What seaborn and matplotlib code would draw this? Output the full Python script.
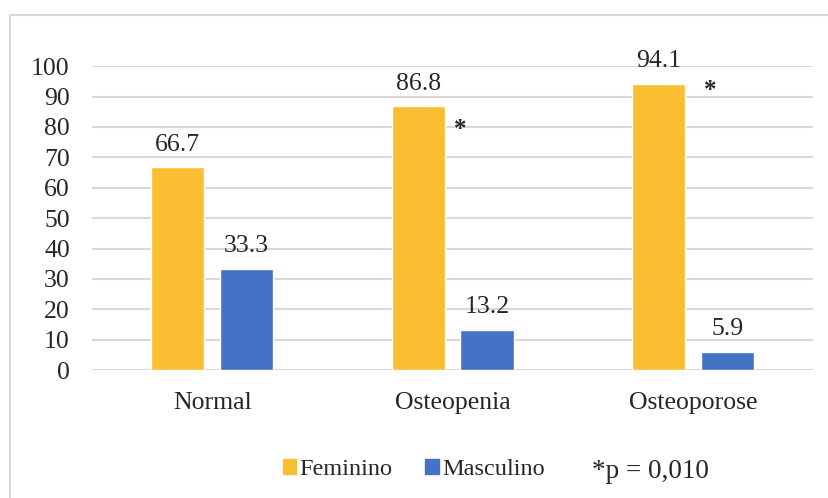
import pandas as pd
import matplotlib.pyplot as plt
import seaborn as sns
from matplotlib.patches import Rectangle

# dados
categorias = ['Normal', 'Osteopenia', 'Osteoporose']
feminino = [66.7, 86.8, 94.1]
masculino = [33.3, 13.2, 5.9]
grupos = ['Feminino', 'Masculino']
cores = ['#F9BE31', '#4472C4']
# asteriscos: (categoria, deslocamento, altura)
asteriscos = [(1, 0.033, 79.3), (2, 0.072, 92.1)]
nota = '*p = 0,010'

df = pd.DataFrame({
    'cat': categorias * 2,
    'val': feminino + masculino,
    'sexo': [grupos[0]] * 3 + [grupos[1]] * 3,
})

sns.set_style('white')
plt.rcParams['font.family'] = ['Liberation Serif', 'DejaVu Serif']

fig = plt.figure(figsize=(8.29, 4.98), dpi=100)
ax = fig.add_axes([0.111, 0.257, 0.870, 0.610])

sns.barplot(data=df, x='cat', y='val', hue='sexo', palette=cores,
            width=0.571, gap=0.226, saturation=1, ax=ax, legend=False)

for c in ax.containers:
    ax.bar_label(c, fmt='%.1f', padding=8.5, fontsize=18.5)

for i, dx, h in asteriscos:
    ax.text(i + dx, h, '*', ha='center', va='center', fontsize=18,
            fontweight='bold')

ax.set_ylim(0, 100)
ax.set_yticks(range(0, 101, 10))
ax.set_xlim(-0.5, 2.5)
ax.yaxis.grid(True, color='#D9D9D9', lw=1.5)
ax.set_axisbelow(True)
sns.despine(ax=ax, left=True, bottom=True)
ax.tick_params(axis='y', length=0, pad=16, labelsize=18.5)
ax.tick_params(axis='x', length=0, pad=16, labelsize=18.5)
ax.set_xlabel('')
ax.set_ylabel('')

# legenda
handles = [Rectangle((0, 0), 1, 1, color=c) for c in cores]
fig.legend(handles, grupos, loc='center left', bbox_to_anchor=(0.3145, 0.057),
           ncol=2, frameon=False, fontsize=17.5, handlelength=0.55,
           handleheight=0.55, handletextpad=0.15, columnspacing=1.35)
fig.text(0.714, 0.054, nota, ha='left', va='center', fontsize=19.5)

# moldura
fig.patches.append(Rectangle((10 / 829, -0.1), 1.2, 1.1 - 15 / 498,
                             transform=fig.transFigure, fill=False,
                             edgecolor='#D9D9D9', lw=1.5))

fig.savefig('out.png', dpi=100)
